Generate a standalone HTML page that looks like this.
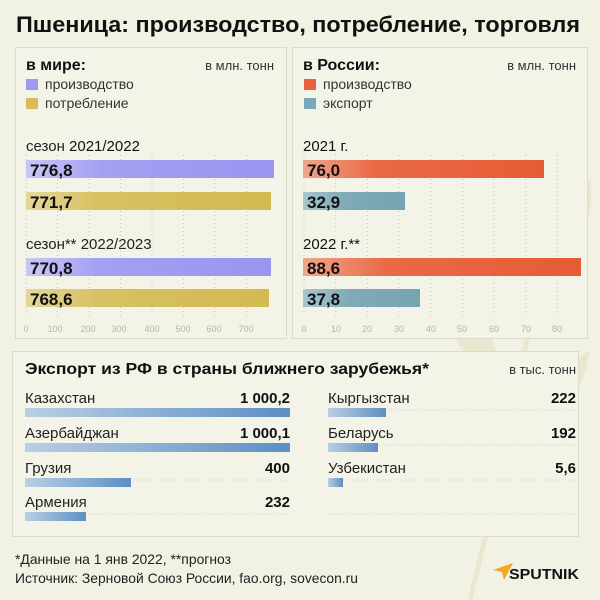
<!DOCTYPE html>
<html><head><meta charset="utf-8"><style>
html,body{margin:0;padding:0;background:#f1f1e4;}
svg{display:block;font-family:"Liberation Sans","DejaVu Sans",sans-serif;}
</style></head><body>
<svg width="600" height="600" viewBox="0 0 600 600" xmlns="http://www.w3.org/2000/svg">
<defs>
<linearGradient id="bl" x1="0" x2="1"><stop offset="0" stop-color="#b9cfe4"/><stop offset="1" stop-color="#5d8fc3"/></linearGradient>
<linearGradient id="pu" x1="0" x2="1"><stop offset="0" stop-color="#c9c7f5"/><stop offset="0.3" stop-color="#a3a0f3"/><stop offset="1" stop-color="#9995f0"/></linearGradient>
<linearGradient id="go" x1="0" x2="1"><stop offset="0" stop-color="#e4d79a"/><stop offset="0.3" stop-color="#d8c061"/><stop offset="1" stop-color="#d4ba52"/></linearGradient>
<linearGradient id="or" x1="0" x2="1"><stop offset="0" stop-color="#f0a58c"/><stop offset="0.3" stop-color="#e96a45"/><stop offset="1" stop-color="#e65c36"/></linearGradient>
<linearGradient id="te" x1="0" x2="1"><stop offset="0" stop-color="#a7c6cf"/><stop offset="0.4" stop-color="#80aab8"/><stop offset="1" stop-color="#76a3b3"/></linearGradient>
</defs>
<rect width="600" height="600" fill="#f1f1e4"/>
<path d="M470 600 Q520 400 560 150" stroke="#ebe6cf" stroke-width="5" fill="none"/>
<path d="M520 300 Q600 250 590 180 Q540 220 520 300Z M505 400 Q430 330 440 260 Q500 320 505 400Z M500 470 Q580 420 590 350 Q530 390 500 470Z" fill="#ebe6cf"/>
<text x="16" y="32" font-size="22" font-weight="bold" fill="#111" textLength="564" lengthAdjust="spacingAndGlyphs">Пшеница: производство, потребление, торговля</text>
<rect x="15.5" y="47.5" width="271" height="291" fill="#f3f3e8" stroke="#dcdccb"/>
<rect x="292.5" y="47.5" width="295" height="291" fill="#f3f3e8" stroke="#dcdccb"/>
<rect x="12.5" y="351.5" width="566" height="185" fill="#f3f3e8" stroke="#dcdccb"/>
<text x="26" y="70" font-size="16" font-weight="bold" fill="#111">в мире:</text>
<text x="274" y="70" font-size="13" fill="#333" text-anchor="end">в млн. тонн</text>
<rect x="26" y="79" width="12" height="11" fill="#9d9af2"/>
<text x="45" y="89" font-size="14" fill="#333">производство</text>
<rect x="26" y="98" width="12" height="11" fill="#d6bd55"/>
<text x="45" y="108" font-size="14" fill="#333">потребление</text>
<text x="26" y="151" font-size="15" fill="#222">сезон <tspan fill="#111">2021/2022</tspan></text>
<text x="26" y="249" font-size="15" fill="#222">сезон** 2022/2023</text>
<g stroke="#c9c9b8" stroke-dasharray="1,3">
<line x1="26" y1="155" x2="26" y2="318"/><line x1="57.5" y1="155" x2="57.5" y2="318"/><line x1="89" y1="155" x2="89" y2="318"/><line x1="120.5" y1="155" x2="120.5" y2="318"/><line x1="152" y1="155" x2="152" y2="318"/><line x1="183.5" y1="155" x2="183.5" y2="318"/><line x1="215" y1="155" x2="215" y2="318"/><line x1="246.5" y1="155" x2="246.5" y2="318"/>
</g>
<rect x="26" y="160" width="248" height="18" fill="url(#pu)"/>
<rect x="26" y="192" width="245" height="18" fill="url(#go)"/>
<rect x="26" y="258" width="245" height="18" fill="url(#pu)"/>
<rect x="26" y="289" width="243" height="18" fill="url(#go)"/>
<g font-size="17" font-weight="bold" fill="#111">
<text x="30" y="176">776,8</text><text x="30" y="208">771,7</text><text x="30" y="274">770,8</text><text x="30" y="305">768,6</text>
</g>
<g font-size="9" fill="#b5b5a5" text-anchor="middle">
<text x="26" y="332">0</text><text x="55" y="332">100</text><text x="88" y="332">200</text><text x="119" y="332">300</text><text x="152" y="332">400</text><text x="183" y="332">500</text><text x="214" y="332">600</text><text x="246" y="332">700</text>
</g>
<text x="303" y="70" font-size="16" font-weight="bold" fill="#111">в России:</text>
<text x="576" y="70" font-size="13" fill="#333" text-anchor="end">в млн. тонн</text>
<rect x="304" y="79" width="12" height="11" fill="#e8603c"/>
<text x="323" y="89" font-size="14" fill="#333">производство</text>
<rect x="304" y="98" width="12" height="11" fill="#7aa8b8"/>
<text x="323" y="108" font-size="14" fill="#333">экспорт</text>
<text x="303" y="151" font-size="15" fill="#111">2021 г.</text>
<text x="303" y="249" font-size="15" fill="#111">2022 г.**</text>
<g stroke="#c9c9b8" stroke-dasharray="1,3">
<line x1="304" y1="155" x2="304" y2="318"/><line x1="335.7" y1="155" x2="335.7" y2="318"/><line x1="367.4" y1="155" x2="367.4" y2="318"/><line x1="399" y1="155" x2="399" y2="318"/><line x1="430.8" y1="155" x2="430.8" y2="318"/><line x1="462.5" y1="155" x2="462.5" y2="318"/><line x1="494" y1="155" x2="494" y2="318"/><line x1="525.8" y1="155" x2="525.8" y2="318"/><line x1="557.5" y1="155" x2="557.5" y2="318"/>
</g>
<rect x="303" y="160" width="241" height="18" fill="url(#or)"/>
<rect x="303" y="192" width="102" height="18" fill="url(#te)"/>
<rect x="303" y="258" width="278" height="18" fill="url(#or)"/>
<rect x="303" y="289" width="117" height="18" fill="url(#te)"/>
<g font-size="17" font-weight="bold" fill="#111">
<text x="307" y="176">76,0</text><text x="307" y="208">32,9</text><text x="307" y="274">88,6</text><text x="307" y="305">37,8</text>
</g>
<g font-size="9" fill="#b5b5a5" text-anchor="middle">
<text x="304" y="332">0</text><text x="336" y="332">10</text><text x="367" y="332">20</text><text x="399" y="332">30</text><text x="431" y="332">40</text><text x="462" y="332">50</text><text x="494" y="332">60</text><text x="526" y="332">70</text><text x="557" y="332">80</text>
</g>
<text x="25" y="374" font-size="16" font-weight="bold" fill="#111" textLength="404" lengthAdjust="spacingAndGlyphs">Экспорт из РФ в страны ближнего зарубежья*</text>
<text x="576" y="374" font-size="13" fill="#333" text-anchor="end">в тыс. тонн</text>
<g stroke="#cfcfbf" stroke-dasharray="1,2">
<line x1="25" y1="410" x2="290" y2="410"/><line x1="25" y1="445" x2="290" y2="445"/><line x1="25" y1="480" x2="290" y2="480"/><line x1="25" y1="514" x2="290" y2="514"/>
<line x1="328" y1="410" x2="576" y2="410"/><line x1="328" y1="445" x2="576" y2="445"/><line x1="328" y1="480" x2="576" y2="480"/><line x1="328" y1="514" x2="576" y2="514"/>
</g>
<g font-size="15" fill="#222">
<text x="25" y="403">Казахстан</text><text x="25" y="438">Азербайджан</text><text x="25" y="473">Грузия</text><text x="25" y="507">Армения</text>
<text x="328" y="403">Кыргызстан</text><text x="328" y="438">Беларусь</text><text x="328" y="473">Узбекистан</text>
</g>
<g font-size="15" font-weight="bold" fill="#111" text-anchor="end">
<text x="290" y="403">1 000,2</text><text x="290" y="438">1 000,1</text><text x="290" y="473">400</text><text x="290" y="507">232</text>
<text x="576" y="403">222</text><text x="576" y="438">192</text><text x="576" y="473">5,6</text>
</g>
<rect x="25" y="408" width="265" height="9" fill="url(#bl)"/>
<rect x="25" y="443" width="265" height="9" fill="url(#bl)"/>
<rect x="25" y="478" width="106" height="9" fill="url(#bl)"/>
<rect x="25" y="512" width="61" height="9" fill="url(#bl)"/>
<rect x="328" y="408" width="58" height="9" fill="url(#bl)"/>
<rect x="328" y="443" width="50" height="9" fill="url(#bl)"/>
<rect x="328" y="478" width="15" height="9" fill="url(#bl)"/>
<text x="15" y="564" font-size="14" fill="#222" textLength="216" lengthAdjust="spacingAndGlyphs">*Данные на 1 янв 2022, **прогноз</text>
<text x="15" y="583" font-size="14" fill="#222" textLength="343" lengthAdjust="spacingAndGlyphs">Источник: Зерновой Союз России, fao.org, sovecon.ru</text>
<path d="M493 570 L513 563 L504 580 L502 572 Z" fill="#f5a623"/>
<text x="509" y="579" font-size="15" font-weight="bold" fill="#111" textLength="70" lengthAdjust="spacingAndGlyphs">SPUTNIK</text>
</svg>
</body></html>
